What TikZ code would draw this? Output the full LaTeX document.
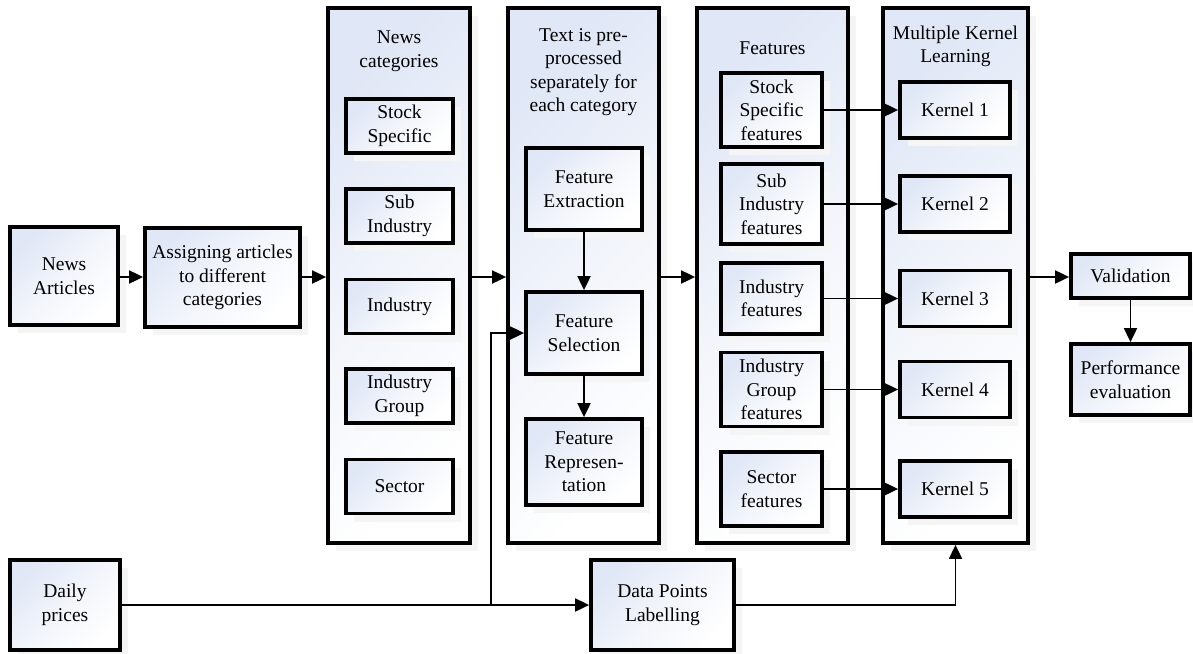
\documentclass[tikz,border=0pt]{standalone}
\usepackage{fontspec}
\setmainfont{Liberation Serif}
\usetikzlibrary{arrows.meta,shadows}
\definecolor{shadeblue}{RGB}{224,231,246}
\definecolor{shademid}{RGB}{242,245,251}
\definecolor{shadowgray}{RGB}{245,245,245}
\tikzset{
  box/.style={draw=black, line width=3.8pt, top color=shadeblue, bottom color=white,
    middle color=shademid, shading angle=45, inner sep=0pt, align=center,
    font=\fontsize{19.5}{23.5}\selectfont,
    drop shadow={shadow xshift=8pt, shadow yshift=-8pt, fill=shadowgray, opacity=1, draw=none}},
  ttl/.style={inner sep=0pt, align=center, font=\fontsize{19.5}{23.5}\selectfont},
  arr/.style={line width=1.9pt, -{Triangle[length=14pt,width=13pt]}},
  ln/.style={line width=1.9pt}
}
\begin{document}
\begin{tikzpicture}[x=1pt,y=-1pt]
\useasboundingbox (0,0) rectangle (1193,653);
% left boxes
\node[box, minimum width=108pt, minimum height=98pt] (news) at (64,276) {News\\Articles};
\node[box, minimum width=155pt, minimum height=99pt] (assign) at (222.5,277.5) {Assigning articles\\to different\\categories};
\node[box, minimum width=110pt, minimum height=90pt] (daily) at (65,605) {Daily\\prices};
% news categories column
\node[box, minimum width=142pt, minimum height=535pt] (catcol) at (399,275.5) {};
\node[ttl] (cattitle) at (399,51) {News\\categories};
\node[box, minimum width=107pt, minimum height=54pt] (ss) at (399.5,126) {Stock\\Specific};
\node[box, minimum width=107pt, minimum height=54pt] (sub) at (399.5,216) {Sub\\Industry};
\node[box, minimum width=107pt, minimum height=54pt] (ind) at (399.5,306.5) {Industry};
\node[box, minimum width=107pt, minimum height=54pt] (grp) at (399.5,396) {Industry\\Group};
\node[box, minimum width=107pt, minimum height=54pt] (sec) at (399.5,486.5) {Sector};
% text column
\node[box, minimum width=151pt, minimum height=535pt] (txtcol) at (583.5,275.5) {};
\node[ttl] (txttitle) at (583.5,72) {Text is pre-\\processed\\separately for\\each category};
\node[box, minimum width=116pt, minimum height=82pt] (fe) at (584,189) {Feature\\Extraction};
\node[box, minimum width=116pt, minimum height=82pt] (fs) at (584,333) {Feature\\Selection};
\node[box, minimum width=116pt, minimum height=86pt] (fr) at (584,462) {Feature\\Represen-\\tation};
% features column
\node[box, minimum width=151pt, minimum height=535pt] (featcol) at (772.5,275.5) {};
\node[ttl] (feattitle) at (772.5,48) {Features};
\node[box, minimum width=101pt, minimum height=74pt] (ssf) at (771.5,110) {Stock\\Specific\\features};
\node[box, minimum width=101pt, minimum height=80pt] (subf) at (771.5,204) {Sub\\Industry\\features};
\node[box, minimum width=101pt, minimum height=71pt] (indf) at (771.5,298.5) {Industry\\features};
\node[box, minimum width=101pt, minimum height=74pt] (grpf) at (771.5,389.5) {Industry\\Group\\features};
\node[box, minimum width=101pt, minimum height=74pt] (secf) at (771.5,489) {Sector\\features};
% MKL column
\node[box, minimum width=145pt, minimum height=535pt] (mkl) at (955.5,275.5) {};
\node[ttl] (mkltitle) at (955.5,46.5) {Multiple Kernel\\Learning};
\node[box, minimum width=110pt, minimum height=56pt] (k1) at (955,110) {Kernel 1};
\node[box, minimum width=110pt, minimum height=56pt] (k2) at (955,204) {Kernel 2};
\node[box, minimum width=110pt, minimum height=56pt] (k3) at (955,298.5) {Kernel 3};
\node[box, minimum width=110pt, minimum height=56pt] (k4) at (955,389.5) {Kernel 4};
\node[box, minimum width=110pt, minimum height=56pt] (k5) at (955,489) {Kernel 5};
% right boxes
\node[box, minimum width=119pt, minimum height=44pt] (valid) at (1130.5,276) {Validation};
\node[box, minimum width=119pt, minimum height=71pt] (perf) at (1130.5,379.5) {Performance\\evaluation};
% data points
\node[box, minimum width=143pt, minimum height=90pt] (dpl) at (662.5,605) {Data Points\\Labelling};
% connectors
\draw[arr] (news.east |- 0,277) -- (assign.west |- 0,277);
\draw[arr] (assign.east |- 0,277) -- (catcol.west |- 0,277);
\draw[arr] (catcol.east |- 0,277) -- (txtcol.west |- 0,277);
\draw[arr] (txtcol.east |- 0,277) -- (featcol.west |- 0,277);
\draw[arr] (mkl.east |- 0,277) -- (valid.west |- 0,277);
\draw[arr] (fe) -- (fs);
\draw[arr] (fs) -- (fr);
\draw[arr] (valid) -- (perf);
\draw[arr] (ssf) -- (k1);
\draw[arr] (subf) -- (k2);
\draw[arr] (indf) -- (k3);
\draw[arr] (grpf) -- (k4);
\draw[arr] (secf) -- (k5);
\coordinate (j) at (491,605);
\draw[arr] (daily) -- (dpl);
\draw[arr] (j) |- (fs.west);
\draw[arr] (dpl.east) -| (mkl.south);
\end{tikzpicture}
\end{document}
